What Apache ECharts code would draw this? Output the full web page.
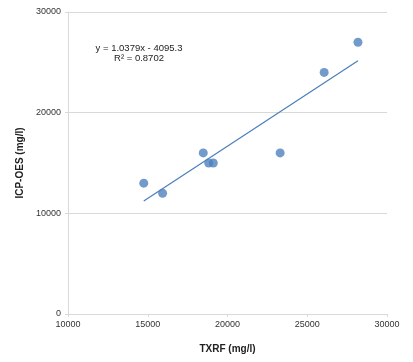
<!DOCTYPE html>
<html><head><meta charset="utf-8">
<script src="https://cdn.jsdelivr.net/npm/echarts@6/dist/echarts.min.js"></script>
<style>html,body{margin:0;padding:0;background:#fff}#c{width:413px;height:362px}</style>
</head><body><div id="c"></div>
<script>
var txrf = [14750, 15930, 18480, 18820, 19110, 23300, 26060, 28180];
var icp = [13000, 12000, 16000, 15000, 15000, 16000, 24000, 27000];
var slope = 1.0379, intercept = -4095.3;
var eqText = ['y = 1.0379x - 4095.3', 'R² = 0.8702'];

var pts = txrf.map(function(x, i){ return [x, icp[i]]; });
var xmin = Math.min.apply(null, txrf), xmax = Math.max.apply(null, txrf);
var trend = [[xmin, slope*xmin+intercept], [xmax, slope*xmax+intercept]];

var chart = echarts.init(document.getElementById('c'));
var fmt = function(v){ return String(v); };
chart.setOption({
  animation: false,
  grid: {left: 68, right: 26, top: 12, bottom: 48},
  xAxis: {
    type: 'value', min: 10000, max: 30000, interval: 5000,
    name: 'TXRF (mg/l)', nameLocation: 'middle', nameGap: 30,
    nameTextStyle: {fontFamily: 'Liberation Sans', fontWeight: 'bold', fontSize: 10, color: '#222'},
    axisLine: {show: true, lineStyle: {color: '#d9d9d9'}},
    axisTick: {show: true, length: 3, lineStyle: {color: '#d9d9d9'}},
    axisLabel: {fontFamily: 'Liberation Sans', fontSize: 9, color: '#333', margin: 6, formatter: fmt},
    splitLine: {show: false}
  },
  yAxis: {
    type: 'value', min: 0, max: 30000, interval: 10000,
    name: 'ICP-OES (mg/l)', nameLocation: 'middle', nameGap: 42, nameRotate: 90,
    nameTextStyle: {fontFamily: 'Liberation Sans', fontWeight: 'bold', fontSize: 10, color: '#222'},
    axisLine: {show: true, lineStyle: {color: '#d9d9d9'}},
    axisTick: {show: true, length: 3, lineStyle: {color: '#d9d9d9'}},
    axisLabel: {fontFamily: 'Liberation Sans', fontSize: 9, color: '#333', margin: 7, formatter: fmt},
    splitLine: {show: true, lineStyle: {color: '#d9d9d9'}}
  },
  series: [
    {type: 'line', data: trend, symbol: 'none', lineStyle: {color: '#4a7ebb', width: 1.2}, z: 2},
    {type: 'scatter', data: pts, symbolSize: 9, itemStyle: {color: '#4f81bd'}, z: 3}
  ],
  graphic: [
    {type: 'text', x: 139, y: 48, style: {text: eqText[0], fontFamily: 'Liberation Sans', fontSize: 9.5, fill: '#222', align: 'center', verticalAlign: 'middle'}},
    {type: 'text', x: 139, y: 58, style: {text: eqText[1], fontFamily: 'Liberation Sans', fontSize: 9.5, fill: '#222', align: 'center', verticalAlign: 'middle'}}
  ]
});
</script></body></html>
